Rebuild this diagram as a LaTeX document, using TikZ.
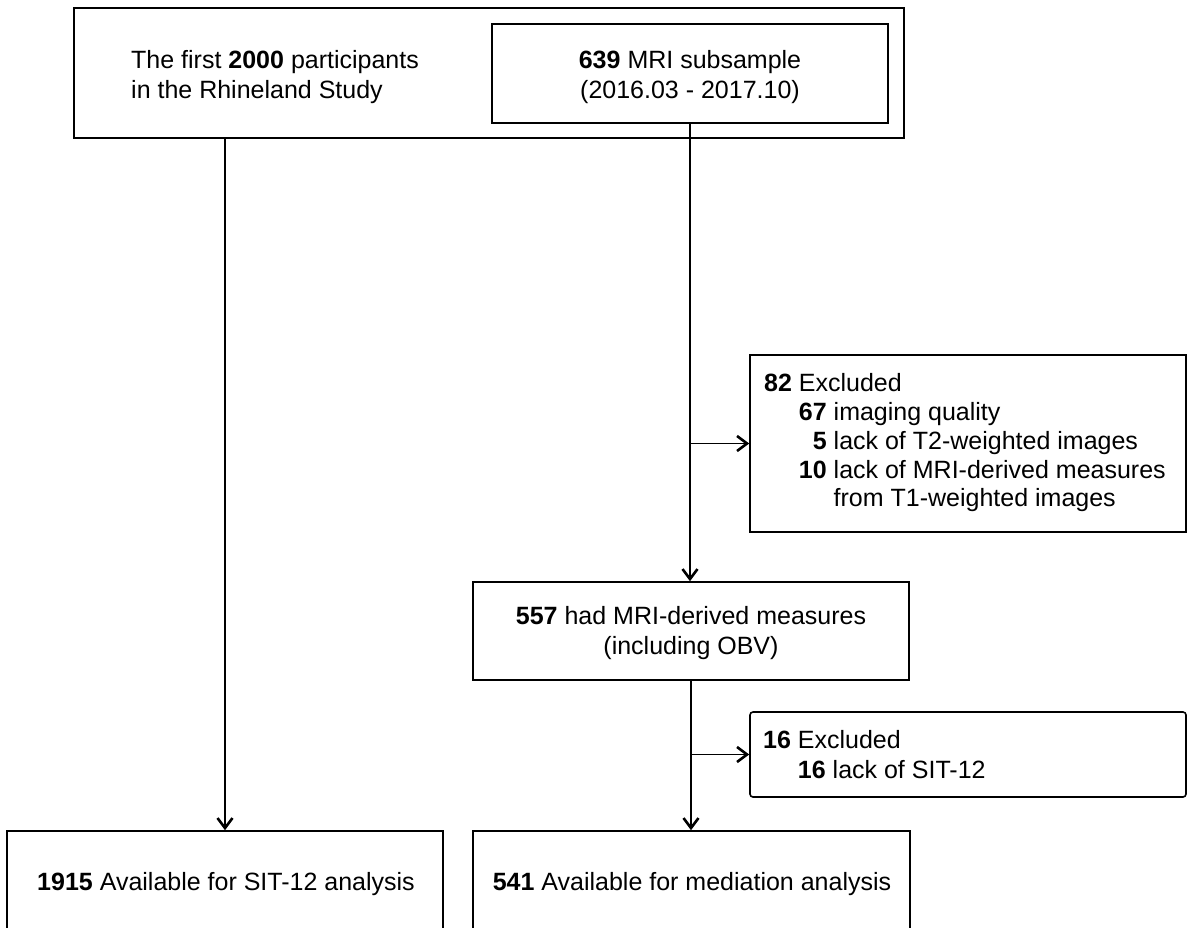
\documentclass[tikz,border=0pt]{standalone}
\usepackage{fontspec}
\setmainfont{Liberation Sans}
\usetikzlibrary{arrows.meta}
\begin{document}
\begin{tikzpicture}[x=1pt,y=-1pt,
  box/.style={draw, line width=1.6pt, inner sep=0pt},
  lbl/.style={font=\fontsize{25}{30}\selectfont, inner sep=0pt},
  arr/.style={line width=1.6pt, -{Straight Barb[length=10pt,width=15pt,line width=2.6pt]}},
  ln/.style={line width=1.6pt}]
\useasboundingbox (0,0) rectangle (1188,927);
\clip (0,0) rectangle (1188,927);
\fill[white] (0,0) rectangle (1188,927);
% top boxes
\node[box, minimum width=830pt, minimum height=130pt] (study) at (489,73) {};
\node[lbl, align=left, anchor=west] (studytxt) at (131,76.6) {The first \textbf{2000} participants\\in the Rhineland Study};
\node[box, minimum width=396pt, minimum height=99pt] (mri) at (690,73.5) {};
\node[lbl, align=center] (mritxt) at (690,77.3) {\textbf{639} MRI subsample\\(2016.03 - 2017.10)};
% exclusion 1
\node[box, minimum width=436pt, minimum height=177pt] (ex1) at (968,443.5) {};
\node[lbl, align=left, anchor=west, font=\fontsize{25}{28.75}\selectfont] (ex1txt) at (764,443) {\textbf{82} Excluded\\
\hphantom{\textbf{82} }\textbf{67} imaging quality\\
\hphantom{\textbf{82} \textbf{6}}\textbf{5} lack of T2-weighted images\\
\hphantom{\textbf{82} }\textbf{10} lack of MRI-derived measures\\
\hphantom{\textbf{82} \textbf{10} }from T1-weighted images};
% measures
\node[box, minimum width=436pt, minimum height=98pt] (meas) at (691,631) {};
\node[lbl, align=center] (meastxt) at (691,633) {\textbf{557} had MRI-derived measures\\(including OBV)};
% exclusion 2
\node[box, rounded corners=3pt, minimum width=436pt, minimum height=85pt] (ex2) at (968,754.5) {};
\node[lbl, align=left, anchor=west] (ex2txt) at (763,755) {\textbf{16} Excluded\\
\hphantom{\textbf{16} }\textbf{16} lack of SIT-12};
% bottom boxes
\node[box, minimum width=436pt, minimum height=100pt] (sit) at (225,881) {};
\node[lbl, anchor=base] (sittxt) at (226,890) {\textbf{1915} Available for SIT-12 analysis};
\node[box, minimum width=437pt, minimum height=100pt] (med) at (691.5,881) {};
\node[lbl, anchor=base] (medtxt) at (692,890) {\textbf{541} Available for mediation analysis};
% connectors
\draw[arr] (sit.north |- study.south) -- (sit.north);
\draw[arr] (mri.south) -- (mri.south |- meas.north);
\draw[arr] (ex1.west -| mri.south) -- (ex1.west);
\draw[arr] (meas.south) -- (meas.south |- med.north);
\draw[arr] (ex2.west -| meas.south) -- (ex2.west);
\end{tikzpicture}
\end{document}
